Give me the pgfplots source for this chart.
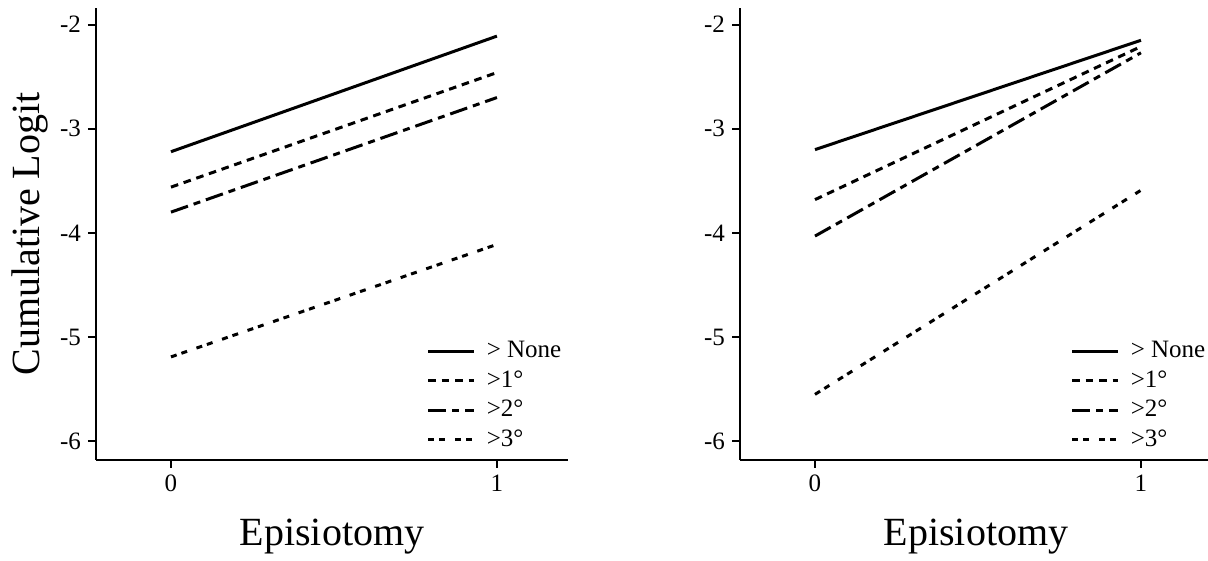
\documentclass[border=0pt]{standalone}
\usepackage{fontspec}
\setmainfont{Liberation Serif}
\usepackage{pgfplots}
\pgfplotsset{compat=1.18}

% dash patterns of the four cumulative logits
\tikzset{
  gnone/.style={black, line width=1.5pt},
  gone/.style={black, line width=1.5pt, dash pattern=on 3.8pt off 2.9pt},
  gtwo/.style={black, line width=1.5pt, dash pattern=on 9pt off 3pt on 3.5pt off 3pt},
  gthree/.style={black, line width=1.5pt, dash pattern=on 3pt off 2.5pt on 3pt off 5pt},
}

\pgfplotsset{
  logitaxis/.style={
    scale only axis, width=236pt, height=226pt,
    xmin=-0.23, xmax=1.218, ymin=-6.18, ymax=-1.84,
    axis lines=left, axis line style={-, line width=0.9pt},
    xtick={0,1}, xticklabels={0,1},
    ytick={-6,-5,-4,-3,-2}, yticklabels={-6,-5,-4,-3,-2},
    tick align=outside, major tick length=4pt,
    tick style={line width=0.9pt, black},
    ticklabel style={font=\fontsize{12.5}{14}\selectfont},
    xlabel={Episiotomy},
    xlabel style={font=\fontsize{20}{24}\selectfont,
      at={(axis description cs:0.5,-0.17)}, anchor=center},
    legend style={draw=none, fill=none,
      at={(axis description cs:0.70,0.27)}, anchor=north west,
      font=\fontsize{12.5}{14}\selectfont, inner sep=0pt,
      nodes={inner sep=1.5pt}, row sep=2pt},
    legend cell align=left,
    legend image code/.code={\draw[#1] (0pt,0pt) -- (23pt,0pt);
      \path (27pt,0pt);},
    clip=false,
  }
}

\begin{document}
\begin{tikzpicture}[x=1pt,y=1pt]
\path[use as bounding box] (0,0) rectangle (604,280.5);

\begin{axis}[logitaxis, at={(48pt,50.5pt)}, anchor=south west,
    ylabel={Cumulative Logit},
    ylabel style={font=\fontsize{20}{24}\selectfont,
      at={(axis description cs:-0.14,0.5)}, anchor=center}]
  \addplot[gnone] coordinates {(0,-3.22) (1,-2.11)};
  \addplot[gone] coordinates {(0,-3.56) (1,-2.46)};
  \addplot[gtwo] coordinates {(0,-3.80) (1,-2.70)};
  \addplot[gthree] coordinates {(0,-5.19) (1,-4.11)};
  \legend{> None, >1°, >2°, >3°}
\end{axis}

\begin{axis}[logitaxis, at={(370pt,50.5pt)}, anchor=south west]
  \addplot[gnone] coordinates {(0,-3.20) (1,-2.15)};
  \addplot[gone] coordinates {(0,-3.68) (1,-2.21)};
  \addplot[gtwo] coordinates {(0,-4.03) (1,-2.27)};
  \addplot[gthree] coordinates {(0,-5.55) (1,-3.59)};
  \legend{> None, >1°, >2°, >3°}
\end{axis}
\end{tikzpicture}
\end{document}
